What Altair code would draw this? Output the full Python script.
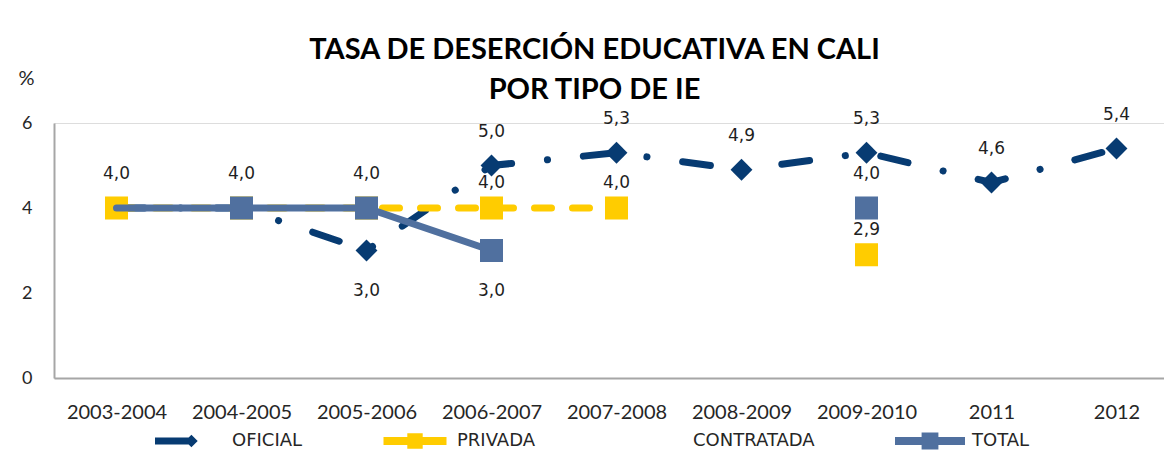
import altair as alt
import pandas as pd

# ---- data ----
PERIODOS = ["2003-2004", "2004-2005", "2005-2006", "2006-2007", "2007-2008",
            "2008-2009", "2009-2010", "2011", "2012"]
OFICIAL = [4.0, 4.0, 3.0, 5.0, 5.3, 4.9, 5.3, 4.6, 5.4]
PRIVADA = [4.0, 4.0, 4.0, 4.0, 4.0, None, 2.9, None, None]
CONTRATADA = [None] * 9
TOTAL = [4.0, 4.0, 4.0, 3.0, None, None, 4.0, None, None]
SERIES = ["OFICIAL", "PRIVADA", "CONTRATADA", "TOTAL"]
Y_TICKS = [0, 2, 4, 6]

df = pd.DataFrame({"periodo": PERIODOS, "OFICIAL": OFICIAL, "PRIVADA": PRIVADA,
                   "CONTRATADA": CONTRATADA, "TOTAL": TOTAL})

C_OF = "#073b72"
C_PR = "#ffcc00"
C_TO = "#50709f"
TXT = "#1f1f1f"

xscale = alt.Scale(type="point", domain=PERIODOS, padding=0.5)
xaxis = alt.Axis(title=None, labelAngle=0, labelPadding=24, labelFont="Lato",
                 labelFontSize=20, labelColor="#262626", ticks=False,
                 domainColor="#a6a6a6", domainWidth=2, grid=False)
yscale = alt.Scale(domain=[0, 6], nice=False)
yaxis = alt.Axis(values=Y_TICKS, title="%", titleAngle=0, titleX=-28, titleY=-45,
                 titleAlign="center", titleBaseline="middle", titleFont="Lato",
                 titleFontSize=20, titleFontWeight="normal", titleColor="#262626",
                 labelPadding=22, labelFont="Lato", labelFontSize=18,
                 labelColor="#262626", ticks=False, grid=False,
                 domainColor="#a6a6a6", domainWidth=2)

X = alt.X("periodo:N", scale=xscale, axis=xaxis, sort=PERIODOS)


def Y(col):
    return alt.Y(f"{col}:Q", scale=yscale, axis=yaxis)


base = alt.Chart(df)

of_line = base.mark_line(color=C_OF, strokeWidth=7, strokeCap="round",
                         strokeDash=[28, 36, 0.1, 36],
                         invalid="break-paths-show-domains").encode(x=X, y=Y("OFICIAL"))
of_pts = base.mark_point(shape="diamond", filled=True, size=480, opacity=1,
                         color=C_OF).encode(x=X, y=Y("OFICIAL")).transform_filter(
    "isValid(datum.OFICIAL)")

pr_line = base.mark_line(color=C_PR, strokeWidth=7, strokeCap="round",
                         strokeDash=[17, 21],
                         invalid="break-paths-show-domains").encode(x=X, y=Y("PRIVADA"))
pr_pts = base.mark_point(shape="square", filled=True, size=530, opacity=1,
                         color=C_PR).encode(x=X, y=Y("PRIVADA")).transform_filter(
    "isValid(datum.PRIVADA)")

to_line = base.mark_line(color=C_TO, strokeWidth=7, strokeCap="round",
                         invalid="break-paths-show-domains").encode(x=X, y=Y("TOTAL"))
to_pts = base.mark_point(shape="square", filled=True, size=530, opacity=1,
                         color=C_TO).encode(x=X, y=Y("TOTAL")).transform_filter(
    "isValid(datum.TOTAL) && datum.periodo != '2003-2004'")


def labels(col, flt, dy):
    return base.transform_filter(flt).transform_calculate(
        lab=f"replace(format(datum['{col}'], '.1f'), '.', ',')"
    ).mark_text(font="DejaVu Sans", fontSize=17, color=TXT, baseline="middle",
                align="center", dy=dy).encode(x=X, y=Y(col), text="lab:N")


of_lab_up = labels("OFICIAL", "isValid(datum.OFICIAL) && datum.periodo != '2005-2006' && datum.OFICIAL != datum.TOTAL", -34)
of_lab_dn = labels("OFICIAL", "datum.periodo == '2005-2006'", 40)
pr_lab = labels("PRIVADA", "isValid(datum.PRIVADA) && (!isValid(datum.TOTAL) || datum.TOTAL != datum.PRIVADA)", -25)
to_lab_up = labels("TOTAL", "isValid(datum.TOTAL) && datum.periodo != '2006-2007'", -34)
to_lab_dn = labels("TOTAL", "datum.periodo == '2006-2007'", 40)

# legend symbols (line + marker), custom paths
P_OF = "M-5,-0.5H0.2V0.5H-5Z M0.2,-0.9L1.1,0L0.2,0.9L-0.7,0Z"
P_LS = "M-5,-0.57H5V0.57H-5Z M-1.2,-1.2H1.2V1.2H-1.2Z"
P_PR = "M-4.5,-0.57H4.5V0.57H-4.5Z M-1.1,-1.1H1.1V1.1H-1.1Z"
legend = alt.Legend(title=None, orient="none", legendX=127, legendY=309,
                    direction="horizontal", columns=4, symbolSize=196,
                    labelOffset=33, columnPadding=80, labelFont="DejaVu Sans",
                    labelFontSize=18, labelColor="#262626", symbolStrokeWidth=0,
                    symbolOpacity=1, padding=0)
leg = alt.Chart(pd.DataFrame({"serie": SERIES})).transform_filter("false").mark_point(
    filled=True, opacity=1).encode(
    color=alt.Color("serie:N", scale=alt.Scale(domain=SERIES,
                                               range=[C_OF, C_PR, "#ffffff", C_TO]),
                    legend=legend),
    shape=alt.Shape("serie:N", scale=alt.Scale(domain=SERIES,
                                               range=[P_OF, P_PR, P_LS, P_LS]),
                    legend=legend),
)

chart = alt.layer(
    of_line, of_pts, pr_line, pr_pts, to_line, to_pts,
    of_lab_up, of_lab_dn, pr_lab, to_lab_up, to_lab_dn, leg
).properties(
    width=1125, height=255,
    title=alt.TitleParams(["TASA DE DESERCIÓN EDUCATIVA EN CALI", "POR TIPO DE IE"],
                          font="Lato", fontSize=29, fontWeight="bold", color="#000000",
                          lineHeight=40, offset=19, anchor="middle", dx=-22, dy=56),
    autosize=alt.AutoSizeParams(type="none"),
    padding={"left": 46, "top": 115, "right": -15, "bottom": 76},
).configure_view(stroke=None).configure(background="white")

chart.save("out.html", embed_options={"renderer": "svg", "actions": False})
